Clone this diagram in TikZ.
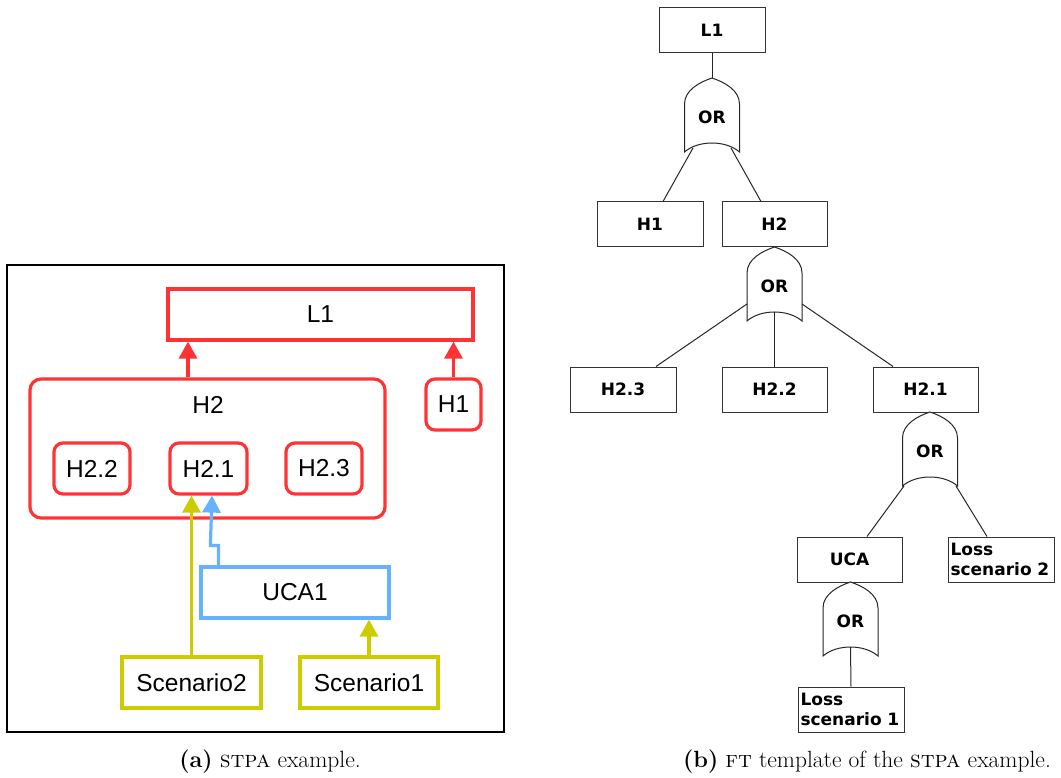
\documentclass[tikz,border=0pt]{standalone}
\usepackage{fontspec}
\usetikzlibrary{arrows.meta}
\newfontfamily\stpafont{Liberation Sans}
\newfontfamily\ftfont{DejaVu Sans}
\definecolor{hzred}{HTML}{FF3333}
\definecolor{ucablue}{HTML}{66B2FF}
\definecolor{scnyellow}{HTML}{CCCC00}
\tikzset{
  stpabox/.style={draw, line width=3.2pt, fill=white, inner sep=0pt,
    font=\stpafont\fontsize{24.5}{29}\selectfont},
  hazard/.style={stpabox, draw=hzred, rounded corners=9pt},
  lossbox/.style={stpabox, draw=hzred},
  ucabox/.style={stpabox, draw=ucablue},
  scnbox/.style={stpabox, draw=scnyellow},
  stpalabel/.style={inner sep=0pt, font=\stpafont\fontsize{24.5}{29}\selectfont},
  flowarrow/.style={line width=3.2pt, -{Triangle[width=18pt,length=17pt]}},
  ftbox/.style={draw=black!80, line width=1pt, fill=white, inner sep=0pt,
    minimum width=106pt, minimum height=45pt,
    font=\ftfont\bfseries\fontsize{17}{20.5}\selectfont},
  ftleaf/.style={ftbox, align=left, text width=101pt, inner xsep=2.5pt},
  fttext/.style={inner sep=0pt, font=\ftfont\bfseries\fontsize{17}{20.5}\selectfont},
  ftline/.style={draw=black!85, line width=1pt},
  caption/.style={inner sep=0pt, font=\fontsize{23.5}{28}\selectfont},
  orgate/.pic={
    \draw[ftline, fill=white] (-27.5,26) -- (-27.5,74)
      .. controls (-13.75,62) and (13.75,62) .. (27.5,74) -- (27.5,26)
      .. controls (27.5,12) and (12,4) .. (0,0)
      .. controls (-12,4) and (-27.5,12) .. (-27.5,26) -- cycle;
    \node[fttext] (-lbl) at (0,39) {OR};
    \coordinate (-top) at (0,0);
    \coordinate (-m) at (0,65);
    \coordinate (-ol) at (-19,70);
    \coordinate (-or) at (19,70);
    \coordinate (-sl) at (-27.5,57);
    \coordinate (-sr) at (27.5,57);
    \coordinate (-bl) at (-26,74);
    \coordinate (-br) at (26,74);
  }
}
\begin{document}
\begin{tikzpicture}[x=1pt, y=-1pt]
\useasboundingbox (0,0) rectangle (1061,778);

% ---------- STPA example ----------
\draw[black, line width=1.5pt] (7,265) rectangle (504,732);

\node[lossbox, minimum width=305pt, minimum height=51pt] (L1) at (320.5,314.5) {L1};
\node[hazard, rounded corners=11pt, minimum width=355pt, minimum height=139pt] (H2) at (207.5,448.5) {};
\node[stpalabel] (H2lbl) at (208,405) {H2};
\node[hazard, minimum width=55pt, minimum height=51pt] (H1) at (453.5,404.5) {H1};
\node[hazard, minimum width=76pt, minimum height=51pt] (H22) at (92,468.5) {H2.2};
\node[hazard, minimum width=77pt, minimum height=51pt] (H21) at (208.5,468.5) {H2.1};
\node[hazard, minimum width=76pt, minimum height=51pt] (H23) at (324,468.5) {H2.3};
\node[ucabox, minimum width=188pt, minimum height=51pt] (UCA) at (295,592.5) {UCA1};
\node[scnbox, minimum width=139pt, minimum height=51pt] (Sc2) at (191.5,682.5) {Scenario2};
\node[scnbox, minimum width=138pt, minimum height=51pt] (Sc1) at (369,682.5) {Scenario1};

\draw[flowarrow, hzred] ([xshift=-19.5pt]H2.north) -- ([xshift=-19.5pt]H2.north |- L1.south);
\draw[flowarrow, hzred] (H1.north) -- (H1.north |- L1.south);
\draw[flowarrow, scnyellow] (Sc2.north) -- (Sc2.north |- H21.south);
\draw[flowarrow, ucablue] ([xshift=19pt]UCA.north west) -- ++(0,-20) -- ++(-8,0)
  -- ([xshift=3.5pt]H21.south);
\draw[flowarrow, scnyellow] (Sc1.north) -- (Sc1.north |- UCA.south);

\node[caption] (capa) at (270,762) {\textbf{(a)} \textsc{stpa} example.};

% ---------- Fault tree template ----------
\node[ftbox] (fL1) at (712,30) {L1};
\node[ftbox] (fH1) at (650,224.5) {H1};
\node[ftbox, minimum width=105pt] (fH2) at (774.5,224.5) {H2};
\node[ftbox] (fH23) at (623,389.5) {H2.3};
\node[ftbox, minimum width=105pt] (fH22) at (774.5,389.5) {H2.2};
\node[ftbox, minimum width=105pt] (fH21) at (925.5,389.5) {H2.1};
\node[ftbox, minimum width=105pt] (fUCA) at (849.5,559.5) {UCA};
\node[ftleaf] (fLS2) at (1001,559.5) {Loss\\scenario 2};
\node[ftleaf] (fLS1) at (851,709.5) {Loss\\scenario 1};

\pic (g1) at (712,78) {orgate};
\pic (g2) at (774.5,247) {orgate};
\pic (g3) at (930,412) {orgate};
\pic (g4) at (850.5,582) {orgate};

\draw[ftline] (fL1.south) -- (g1-top);
\draw[ftline] (g1-ol) -- ([xshift=13pt]fH1.north);
\draw[ftline] (g1-or) -- ([xshift=-13.5pt]fH2.north);
\draw[ftline] (g2-sl) -- ([xshift=33pt]fH23.north);
\draw[ftline] (g2-m) -- (fH22.north);
\draw[ftline] (g2-sr) -- ([xshift=-32.5pt]fH21.north);
\draw[ftline] (g3-bl) -- ([xshift=17.5pt]fUCA.north);
\draw[ftline] (g3-br) -- ([xshift=-14pt]fLS2.north);
\draw[ftline] (g4-m) -- (fLS1.north);

\node[caption] (capb) at (867,762) {\textbf{(b)} \textsc{ft} template of the \textsc{stpa} example.};
\end{tikzpicture}
\end{document}
